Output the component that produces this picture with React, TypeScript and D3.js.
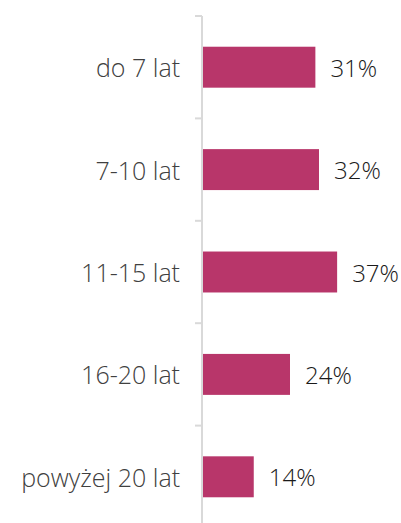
import React from "react";
import * as d3 from "d3";

const categories = ["do 7 lat", "7-10 lat", "11-15 lat", "16-20 lat", "powyżej 20 lat"];
const values = [31, 32, 37, 24, 14];
const valueLabels = ["31%", "32%", "37%", "24%", "14%"];

const W = 401;
const H = 523;
const axisX = 202;
const top = 16;
const band = 102.4;

export default function App() {
  const y = d3
    .scaleBand<string>()
    .domain(categories)
    .range([top, top + band * categories.length])
    .paddingInner(0.6)
    .paddingOuter(0.3);
  const x = d3.scaleLinear().domain([0, 40]).range([axisX + 1, axisX + 1 + 145]);
  const font = "'Open Sans', Lato, sans-serif";
  const tickYs = d3.range(categories.length + 1).map((i) => top + band * i);
  return (
    <svg
      width={W}
      height={H}
      style={{ position: "absolute", left: 0, top: 0, background: "#fff" }}
    >
      <line x1={axisX} x2={axisX} y1={top} y2={H} stroke="#d9d9d9" strokeWidth={2} />
      {tickYs.map((t, i) => (
        <line key={i} x1={axisX - 7} x2={axisX} y1={t} y2={t} stroke="#d9d9d9" strokeWidth={2} />
      ))}
      {categories.map((c, i) => {
        const yc = (y(c) as number) + y.bandwidth() / 2;
        return (
          <g key={c}>
            <rect
              x={x(0)}
              y={y(c)}
              width={x(values[i]) - x(0)}
              height={y.bandwidth()}
              fill="#B8366A"
            />
            <text
              x={axisX - 22}
              y={yc}
              textAnchor="end"
              dominantBaseline="central"
              fontFamily={font}
              fontWeight={300}
              fontSize={25}
              fill="#404040"
            >
              {c}
            </text>
            <text
              x={x(values[i]) + 15}
              y={yc}
              dominantBaseline="central"
              fontFamily={font}
              fontWeight={300}
              fontSize={24}
              fill="#1a1a1a"
            >
              {valueLabels[i]}
            </text>
          </g>
        );
      })}
    </svg>
  );
}
